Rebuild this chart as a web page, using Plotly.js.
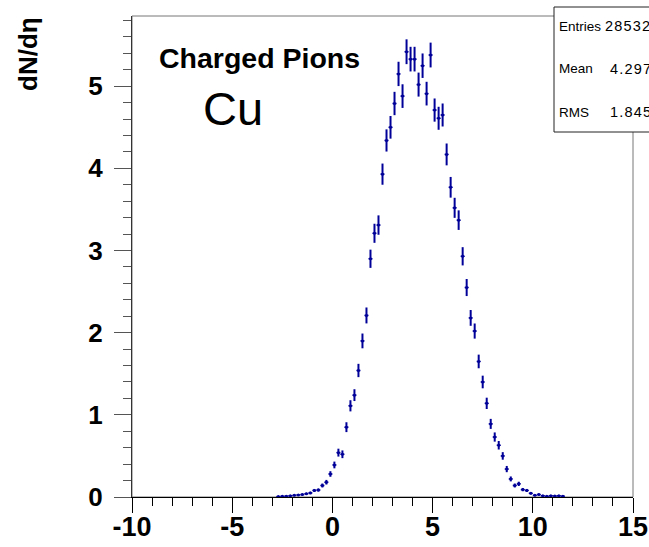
<!DOCTYPE html>
<html><head><meta charset="utf-8">
<script src="https://cdn.plot.ly/plotly-3.0.1.min.js"></script>
<style>body{margin:0;background:#fff;} #chart{width:649px;height:547px;}</style>
</head><body><div id="chart"></div>
<script>
// eta bin centres (bin width 0.2)
const etaCenters = [-2.7,-2.5,-2.3,-2.1,-1.9,-1.7,-1.5,-1.3,-1.1,-0.9,-0.7,-0.5,-0.3,-0.1,
  0.1,0.3,0.5,0.7,0.9,1.1,1.3,1.5,1.7,1.9,2.1,2.3,2.5,2.7,2.9,3.1,3.3,3.5,3.7,3.9,
  4.1,4.3,4.5,4.7,4.9,5.1,5.3,5.5,5.7,5.9,6.1,6.3,6.5,6.7,6.9,7.1,7.3,7.5,7.7,7.9,
  8.1,8.3,8.5,8.7,8.9,9.1,9.3,9.5,9.7,9.9,10.1,10.3,10.5,10.7,10.9,11.1,11.3,11.5];
const dNdEta = [0.005,0.008,0.01,0.015,0.02,0.025,0.03,0.04,0.05,0.08,0.085,0.14,0.18,0.28,
  0.39,0.54,0.52,0.85,1.11,1.24,1.54,1.90,2.21,2.90,3.21,3.31,3.93,4.34,4.50,4.79,5.15,4.88,5.42,5.33,
  5.33,5.02,5.25,4.91,5.38,4.71,4.61,4.65,4.17,3.77,3.52,3.37,2.93,2.55,2.18,2.02,1.65,1.40,1.14,0.89,
  0.73,0.63,0.50,0.34,0.22,0.14,0.16,0.09,0.08,0.045,0.02,0.03,0.015,0.008,0.015,0.012,0.015,0.01];
const dNdEtaErr = [0.005,0.006,0.007,0.008,0.009,0.010,0.011,0.013,0.015,0.018,0.019,0.024,0.028,0.034,
  0.041,0.048,0.047,0.060,0.068,0.072,0.081,0.090,0.097,0.111,0.116,0.118,0.129,0.135,0.138,0.142,0.148,0.144,0.151,0.150,
  0.150,0.146,0.149,0.144,0.151,0.141,0.140,0.140,0.133,0.126,0.122,0.119,0.111,0.104,0.096,0.092,0.083,0.077,0.069,0.061,
  0.056,0.052,0.046,0.038,0.030,0.024,0.026,0.020,0.018,0.014,0.009,0.011,0.008,0.006,0.008,0.007,0.008,0.007];
const xTickVals = [-10,-5,0,5,10,15];
const xTickText = ['-10','-5','0','5','10','15'];
const yTickVals = [0,1,2,3,4,5];
const yTickText = ['0','1','2','3','4','5'];
const statLabels = ['Entries','Mean','RMS'];
const statValues = ['28532','4.297','1.845'];

const L = 132, R = 633, T = 16, B = 497, W = 649, H = 547;
const px = v => (v - L) / (R - L);
const py = v => (B - v) / (B - T);
const col = '#000099';
const ff = 'Liberation Sans, Arial, Helvetica, sans-serif';

const trace = {
  x: etaCenters, y: dNdEta, type: 'scatter', mode: 'markers',
  marker: {color: col, size: 3},
  error_y: {type: 'data', array: dNdEtaErr, visible: true, color: col, thickness: 2, width: 0},
  error_x: {type: 'constant', value: 0.1, visible: true, color: col, thickness: 1.5, width: 0},
  hoverinfo: 'skip', showlegend: false
};

const statY = [26.5, 68.5, 112];
const statValX = [603, 608, 608];
const annotations = [
  {text: 'Charged Pions', x: px(157), y: py(58), xref: 'paper', yref: 'paper', xanchor: 'left', yanchor: 'middle',
   showarrow: false, font: {family: ff, size: 28.5, weight: 'bold', color: '#000'}},
  {text: 'Cu', x: px(201), y: py(109), xref: 'paper', yref: 'paper', xanchor: 'left', yanchor: 'middle',
   showarrow: false, font: {family: ff, size: 47, color: '#000'}},
  {text: 'dN/dη', x: px(28), y: py(54), xref: 'paper', yref: 'paper', xanchor: 'center', yanchor: 'middle',
   textangle: -90, showarrow: false, font: {family: ff, size: 26, weight: 'bold', color: '#000'}}
];
statLabels.forEach((lab, i) => {
  annotations.push({text: lab, x: px(557), y: py(statY[i]), xref: 'paper', yref: 'paper', xanchor: 'left', yanchor: 'middle',
    showarrow: false, font: {family: ff, size: 13.5, color: '#000'}});
  annotations.push({text: '<span style="letter-spacing:1.2px">' + statValues[i] + '</span>', x: px(statValX[i]), y: py(statY[i]),
    xref: 'paper', yref: 'paper', xanchor: 'left', yanchor: 'middle',
    showarrow: false, font: {family: ff, size: 14.5, color: '#000'}});
});

const layout = {
  width: W, height: H,
  margin: {l: L, r: W - R, t: T, b: H - B, pad: 0},
  paper_bgcolor: '#fff', plot_bgcolor: '#fff',
  xaxis: {range: [-10, 15], showgrid: false, zeroline: false, showline: true, linecolor: '#000', linewidth: 1,
    ticks: 'outside', ticklen: 15, tickcolor: '#000', tickwidth: 1,
    tickvals: xTickVals, ticktext: xTickText, ticklabelstandoff: -9,
    tickfont: {family: ff, size: 27, weight: 'bold', color: '#000'},
    minor: {dtick: 1, ticks: 'outside', ticklen: 8, tickcolor: '#000', tickwidth: 1}},
  yaxis: {range: [0, 5.855], showgrid: false, zeroline: false, showline: true, linecolor: '#333', linewidth: 1,
    ticks: 'outside', ticklen: 17, tickcolor: '#555', tickwidth: 1,
    tickvals: yTickVals, ticktext: yTickText, ticklabelstandoff: 6,
    tickfont: {family: ff, size: 26, weight: 'bold', color: '#000'},
    minor: {dtick: 0.2, ticks: 'outside', ticklen: 8, tickcolor: '#555', tickwidth: 1}},
  shapes: [
    {type: 'rect', xref: 'paper', yref: 'paper', x0: 0, x1: 1, y0: 0, y1: 1, line: {color: '#777', width: 1}, layer: 'below'},
    {type: 'rect', xref: 'paper', yref: 'paper', x0: px(554), x1: px(700), y0: py(132), y1: py(7),
     fillcolor: '#fff', line: {color: '#222', width: 1}, layer: 'above'}
  ],
  annotations: annotations
};

Plotly.newPlot('chart', [trace], layout, {staticPlot: true, displayModeBar: false});
</script></body></html>
